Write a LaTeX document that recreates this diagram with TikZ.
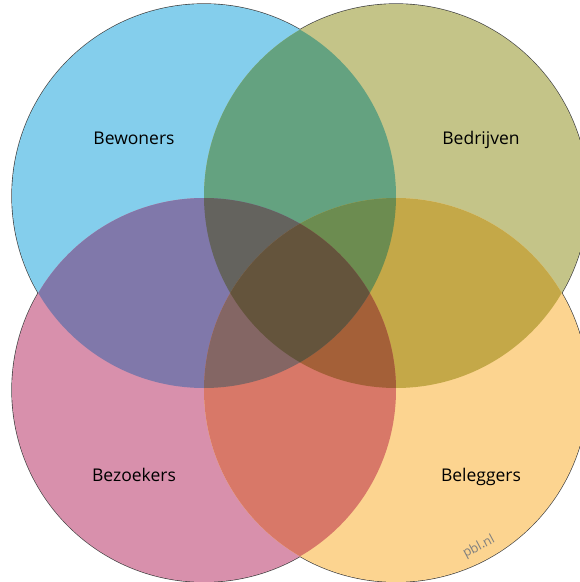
\documentclass[tikz,border=0pt]{standalone}
\usepackage{fontspec}
\setmainfont{Open Sans}
\definecolor{cB}{RGB}{132,206,236}
\definecolor{cO}{RGB}{196,196,136}
\definecolor{cP}{RGB}{216,144,172}
\definecolor{cR}{RGB}{252,212,144}
\definecolor{cBO}{RGB}{100,162,128}
\definecolor{cBP}{RGB}{128,120,170}
\definecolor{cOR}{RGB}{196,168,72}
\definecolor{cPR}{RGB}{216,120,104}
\definecolor{cBOP}{RGB}{100,99,94}
\definecolor{cBOR}{RGB}{108,140,80}
\definecolor{cOPR}{RGB}{164,96,56}
\definecolor{cBPR}{RGB}{132,102,100}
\definecolor{cALL}{RGB}{100,84,60}
\definecolor{cgrey}{RGB}{128,128,128}
\tikzset{
  lbl/.style={font=\fontsize{17.5}{20}\selectfont, text=black, anchor=base},
  wm/.style={font=\fontsize{13}{15}\selectfont, text=cgrey, rotate=28},
}
\begin{document}
\begin{tikzpicture}[x=1pt,y=-1pt]
\useasboundingbox (0,0) rectangle (580,582);
\fill[white] (0,0) rectangle (580,582);
\coordinate (c1) at (204,196);
\coordinate (c2) at (396,196);
\coordinate (c3) at (204,390);
\coordinate (c4) at (396,390);
\def\R{192}
% outer outline
\foreach \c in {c1,c2,c3,c4}{\draw[line width=1.3pt, black!75] (\c) circle[radius=\R];}
% single circles
\fill[cB] (c1) circle[radius=\R];
\fill[cO] (c2) circle[radius=\R];
\fill[cP] (c3) circle[radius=\R];
\fill[cR] (c4) circle[radius=\R];
% pairs
\begin{scope}\clip (c1) circle[radius=\R]; \fill[cBO] (c2) circle[radius=\R];\end{scope}
\begin{scope}\clip (c1) circle[radius=\R]; \fill[cBP] (c3) circle[radius=\R];\end{scope}
\begin{scope}\clip (c2) circle[radius=\R]; \fill[cOR] (c4) circle[radius=\R];\end{scope}
\begin{scope}\clip (c3) circle[radius=\R]; \fill[cPR] (c4) circle[radius=\R];\end{scope}
% triples
\begin{scope}\clip (c1) circle[radius=\R]; \clip (c2) circle[radius=\R]; \fill[cBOP] (c3) circle[radius=\R];\end{scope}
\begin{scope}\clip (c1) circle[radius=\R]; \clip (c2) circle[radius=\R]; \fill[cBOR] (c4) circle[radius=\R];\end{scope}
\begin{scope}\clip (c2) circle[radius=\R]; \clip (c3) circle[radius=\R]; \fill[cOPR] (c4) circle[radius=\R];\end{scope}
\begin{scope}\clip (c1) circle[radius=\R]; \clip (c3) circle[radius=\R]; \fill[cBPR] (c4) circle[radius=\R];\end{scope}
% all four
\begin{scope}\clip (c1) circle[radius=\R]; \clip (c2) circle[radius=\R]; \clip (c3) circle[radius=\R]; \fill[cALL] (c4) circle[radius=\R];\end{scope}
\node[lbl] (bew) at (134,144) {Bewoners};
\node[lbl] (bed) at (481,144) {Bedrijven};
\node[lbl] (bez) at (134,481) {Bezoekers};
\node[lbl] (bel) at (481,481) {Beleggers};
\node[wm] (pbl) at (479,547) {pbl.nl};
\end{tikzpicture}
\end{document}
